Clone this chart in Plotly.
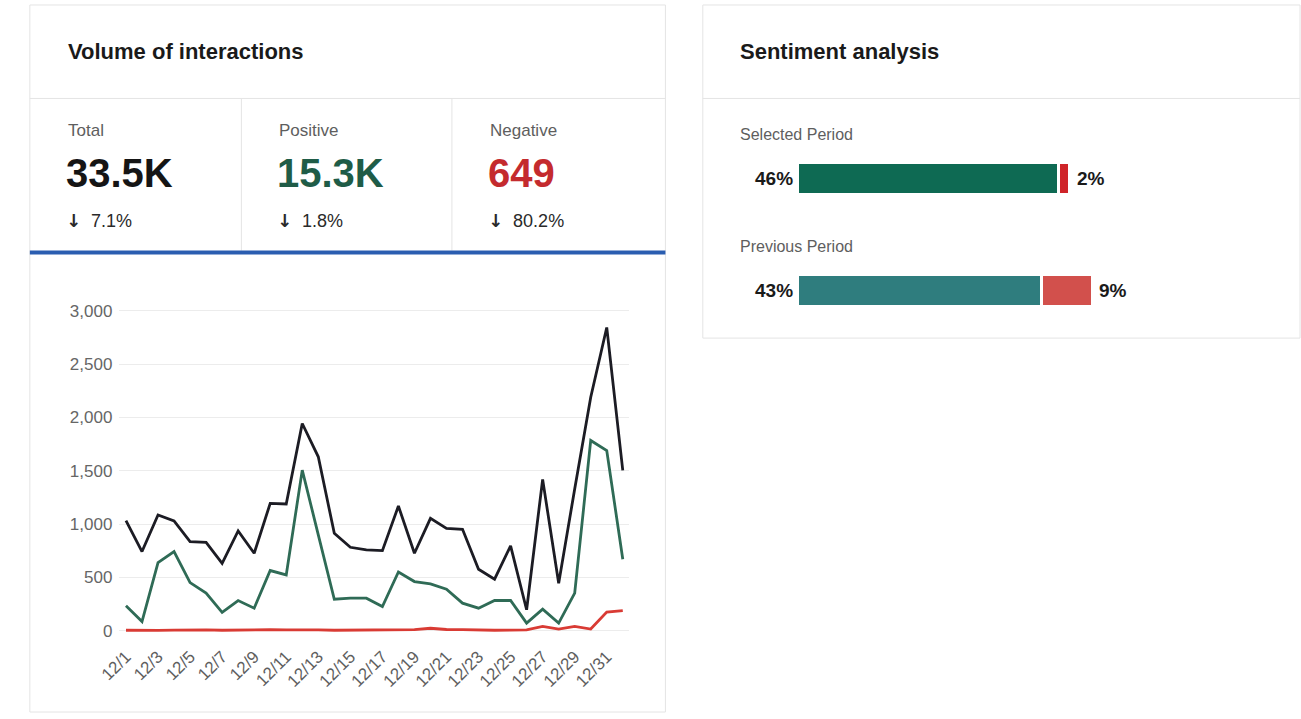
import plotly.graph_objects as go

W, H = 1301, 719
FONT = "Liberation Sans, Arial, sans-serif"

# ---------------- data ----------------
dates = ["12/%d" % d for d in range(1, 32)] + ["1/1"]
total = [1033, 743, 1086, 1030, 836, 830, 633, 936, 727, 1195, 1189, 1944, 1632, 914, 783, 758,
         752, 1170, 727, 1055, 961, 952, 577, 484, 796, 197, 1420, 446, 1330, 2190, 2845, 1505]
positive = [234, 87, 640, 743, 452, 353, 172, 284, 212, 565, 524, 1507, 900, 296, 306, 306,
            228, 552, 462, 440, 390, 259, 212, 284, 284, 72, 203, 72, 353, 1785, 1690, 671]
negative = [5, 3, 4, 6, 10, 8, 5, 9, 12, 10, 8, 12, 9, 5, 6, 8,
            7, 9, 10, 24, 12, 10, 6, 5, 7, 9, 42, 16, 42, 16, 175, 190]
tick_labels = dates[0:31:2]

kpi_labels = ["Total", "Positive", "Negative"]
kpi_values = ["33.5K", "15.3K", "649"]
kpi_changes = ["7.1%", "1.8%", "80.2%"]

periods = ["Selected Period", "Previous Period"]
pos_pct = [46, 43]
neg_pct = [2, 9]

# ---------------- styles ----------------
line_colors = {"Total": "#1c1c24", "Positive": "#2f6b56", "Negative": "#d93b34"}
kpi_colors = ["#151515", "#1f5c47", "#c42b2e"]
pos_colors = ["#0e6a53", "#2f7d7e"]
neg_colors = ["#cf2429", "#d2504c"]


def px(x):
    return x / W


def py(y):
    return 1 - y / H


fig = go.Figure()

for name, vals in [("Negative", negative), ("Positive", positive), ("Total", total)]:
    fig.add_trace(go.Scatter(x=dates, y=vals, mode="lines", name=name,
                             line=dict(color=line_colors[name], width=2.8),
                             xaxis="x", yaxis="y", showlegend=False, hoverinfo="skip"))

fig.add_trace(go.Bar(y=periods, x=pos_pct, orientation="h", width=0.283,
                     marker=dict(color=pos_colors, line=dict(color="white", width=3)),
                     xaxis="x2", yaxis="y2", showlegend=False, hoverinfo="skip"))
fig.add_trace(go.Bar(y=periods, x=neg_pct, orientation="h", width=0.283,
                     marker=dict(color=neg_colors, line=dict(color="white", width=3)),
                     xaxis="x2", yaxis="y2", showlegend=False, hoverinfo="skip"))

ytickfont = dict(family=FONT, size=17, color="#666666")
xtickfont = dict(family=FONT, size=17, color="#5e5e5e")

shapes = []
border = "#e4e4e4"
# left card
shapes.append(dict(type="rect", xref="paper", yref="paper", x0=px(9), x1=px(655), y0=py(716), y1=py(5),
                   line=dict(color=border, width=1)))
shapes.append(dict(type="line", xref="paper", yref="paper", x0=px(9), x1=px(655), y0=py(99), y1=py(99),
                   line=dict(color=border, width=1)))
for xd in [224, 438]:
    shapes.append(dict(type="line", xref="paper", yref="paper", x0=px(xd), x1=px(xd), y0=py(99), y1=py(252),
                       line=dict(color=border, width=1)))
shapes.append(dict(type="line", xref="paper", yref="paper", x0=px(9), x1=px(655), y0=py(254), y1=py(254),
                   line=dict(color="#2a5db0", width=4)))
# right card
shapes.append(dict(type="rect", xref="paper", yref="paper", x0=px(693), x1=px(1300), y0=py(340), y1=py(5),
                   line=dict(color=border, width=1)))
shapes.append(dict(type="line", xref="paper", yref="paper", x0=px(693), x1=px(1300), y0=py(99), y1=py(99),
                   line=dict(color=border, width=1)))

ann = []
ann.append(dict(text="<b>Volume of interactions</b>", x=px(46), y=py(52), xref="paper", yref="paper",
                xanchor="left", yanchor="middle", showarrow=False,
                font=dict(family=FONT, size=22, color="#1a1a1a")))
ann.append(dict(text="<b>Sentiment analysis</b>", x=px(729), y=py(52), xref="paper", yref="paper",
                xanchor="left", yanchor="middle", showarrow=False,
                font=dict(family=FONT, size=22, color="#1a1a1a")))

arrow = "<span style=\"font-family:'DejaVu Sans';font-weight:bold\">↓</span>"
kpi_x = [46, 260, 475]
for j in range(3):
    ann.append(dict(text=kpi_labels[j], x=px(kpi_x[j]), y=py(131), xref="paper", yref="paper",
                    xanchor="left", yanchor="middle", showarrow=False,
                    font=dict(family=FONT, size=17, color="#5e5e5e")))
    ann.append(dict(text="<b>%s</b>" % kpi_values[j], x=px(kpi_x[j] - 2), y=py(174), xref="paper", yref="paper",
                    xanchor="left", yanchor="middle", showarrow=False,
                    font=dict(family=FONT, size=40, color=kpi_colors[j])))
    ann.append(dict(text="%s&nbsp; %s" % (arrow, kpi_changes[j]), x=px(kpi_x[j] - 2), y=py(222),
                    xref="paper", yref="paper",
                    xanchor="left", yanchor="middle", showarrow=False,
                    font=dict(family=FONT, size=18, color="#2a2a2a")))

period_label_y = [135, 248]
for k, p in enumerate(periods):
    ann.append(dict(text=p, x=px(729), y=py(period_label_y[k]), xref="paper", yref="paper",
                    xanchor="left", yanchor="middle", showarrow=False,
                    font=dict(family=FONT, size=16, color="#5e5e5e")))
    ann.append(dict(text="<b>%d%%</b>" % pos_pct[k], x=0, y=p, xref="x2", yref="y2",
                    xanchor="right", yanchor="middle", xshift=-3, showarrow=False,
                    font=dict(family=FONT, size=19, color="#1a1a1a")))
    ann.append(dict(text="<b>%d%%</b>" % neg_pct[k], x=pos_pct[k] + neg_pct[k], y=p, xref="x2", yref="y2",
                    xanchor="left", yanchor="middle", xshift=5, showarrow=False,
                    font=dict(family=FONT, size=19, color="#1a1a1a")))

fig.update_layout(
    width=W, height=H,
    margin=dict(l=0, r=0, t=0, b=0),
    paper_bgcolor="white", plot_bgcolor="white",
    barmode="stack",
    showlegend=False,
    xaxis=dict(domain=[px(100), px(618)], type="category", range=[-0.411, 31.39],
               tickmode="array", tickvals=tick_labels, ticktext=tick_labels, tickangle=-45,
               showgrid=False, zeroline=False, showline=False, ticks="", tickfont=xtickfont,
               ticklabelstandoff=6),
    yaxis=dict(domain=[py(640), py(300)], range=[-53, 3118], dtick=500, tickformat=",",
               showgrid=True, gridcolor="#ececec", gridwidth=1, zeroline=False, showline=False,
               ticks="", tickfont=ytickfont, ticklabelstandoff=6),
    xaxis2=dict(domain=[px(789.5), px(1300)], range=[0, 88.69], visible=False, anchor="y2"),
    yaxis2=dict(domain=[py(349), py(123)], type="category", range=[1.5, -0.5], visible=False, anchor="x2"),
    shapes=shapes,
    annotations=ann,
)

fig.write_html("out.html", config={"displayModeBar": False},
               post_script="document.body.style.margin='0';document.body.style.overflow='hidden';")
